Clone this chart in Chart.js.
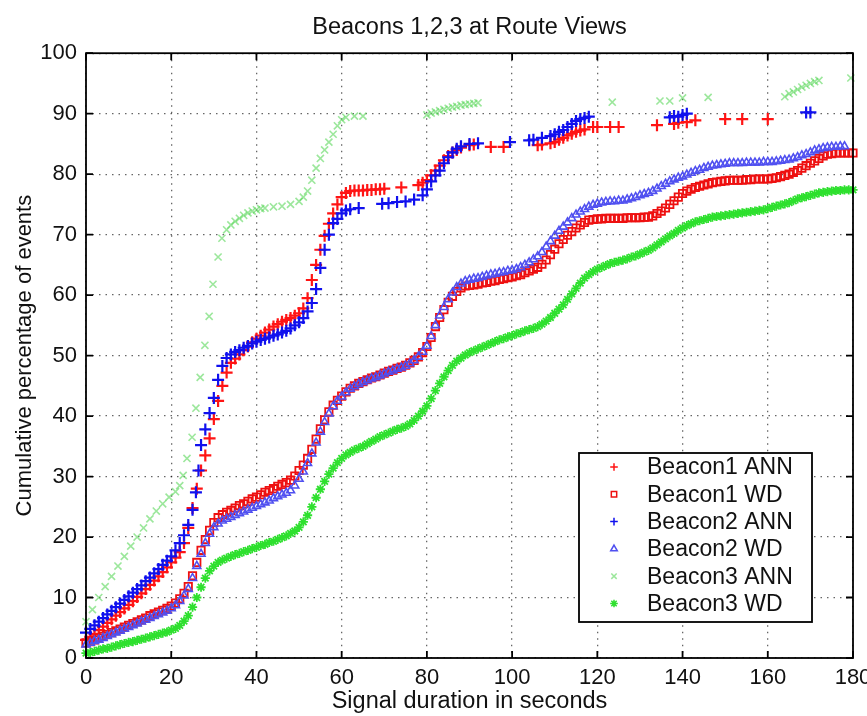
<!DOCTYPE html>
<html>
<head>
<meta charset="utf-8">
<script src="https://cdn.jsdelivr.net/npm/chart.js@4.4.1/dist/chart.umd.min.js"></script>
<style>
  html, body { margin: 0; padding: 0; background: #fff; }
  #wrap { width: 867px; height: 716px; }
</style>
</head>
<body>
<div id="wrap"><canvas id="chart" width="867" height="716"></canvas></div>
<script>
// CDF of signal durations, Beacons 1,2,3 seen at Route Views

const TITLE = 'Beacons 1,2,3 at Route Views';
const X_LABEL = 'Signal duration in seconds';
const Y_LABEL = 'Cumulative percentage of events';
const SERIES_NAMES = ['Beacon1 ANN', 'Beacon1 WD', 'Beacon2 ANN', 'Beacon2 WD', 'Beacon3 ANN', 'Beacon3 WD'];

// WD curves: one value per second, starting at 0 s
const wdSeconds = Array.from({ length: 181 }, (_, i) => i);

const b1WD = [
  2.5,2.7,3.0,3.3,3.6,3.9,4.2,4.5,4.8,5.1, 5.4,5.7,6.0,6.3,6.6,7.0,7.3,7.6,7.9,8.2,
  8.6,9.1,9.8,10.7,11.8,13.6,15.8,17.8,19.6,21.1, 22.4,23.2,23.7,24.1,24.4,24.8,25.2,25.5,25.9,26.3,
  26.6,27.0,27.4,27.7,28.0,28.4,28.7,29.0,29.4,30.1, 31.0,31.9,33.0,34.5,36.2,37.9,39.4,40.7,41.8,42.6,
  43.3,44.0,44.6,45.0,45.4,45.7,46.0,46.3,46.5,46.8, 47.1,47.4,47.6,47.9,48.1,48.4,48.8,49.2,49.8,50.5,
  51.5,53.0,54.8,56.3,57.6,58.8,59.8,60.6,61.2,61.5, 61.6,61.7,61.8,62.0,62.1,62.3,62.4,62.6,62.7,62.9,
  63.0,63.2,63.4,63.7,64.0,64.3,64.6,65.1,65.8,66.7, 67.6,68.5,69.2,69.9,70.5,71.1,71.6,72.0,72.4,72.5,
  72.6,72.6,72.7,72.7,72.7,72.7,72.7,72.8,72.8,72.8, 72.8,72.9,72.9,73.1,73.5,73.9,74.4,75.0,75.6,76.2,
  76.8,77.2,77.5,77.8,78.0,78.2,78.4,78.6,78.7,78.8, 78.9,79.0,79.0,79.0,79.0,79.1,79.1,79.2,79.2,79.2,
  79.2,79.3,79.4,79.6,79.8,80.0,80.3,80.6,81.0,81.4, 81.8,82.2,82.6,83.0,83.3,83.4,83.5,83.5,83.5,83.5,
  83.5];

const b2WD = [
  2.2,2.5,2.8,3.0,3.3,3.6,3.9,4.2,4.5,4.8, 5.1,5.4,5.7,6.0,6.3,6.6,6.9,7.2,7.5,7.8,
  8.2,8.7,9.4,10.3,11.4,13.2,15.2,17.2,19.0,20.5, 21.6,22.2,22.7,23.0,23.3,23.6,23.9,24.2,24.5,24.8,
  25.1,25.4,25.7,26.0,26.4,26.7,27.0,27.3,27.7,28.5, 29.6,30.8,32.2,33.8,35.6,37.4,39.0,40.4,41.6,42.5,
  43.2,43.9,44.5,44.9,45.3,45.6,45.9,46.2,46.4,46.7, 47.0,47.3,47.5,47.8,48.0,48.3,48.7,49.2,49.8,50.6,
  51.6,53.2,55.0,56.6,58.0,59.3,60.4,61.3,61.9,62.3, 62.5,62.7,62.8,63.0,63.2,63.4,63.5,63.7,63.8,64.0,
  64.1,64.3,64.6,65.0,65.4,65.9,66.4,67.1,68.0,68.9, 69.8,70.6,71.3,72.0,72.7,73.3,73.8,74.2,74.6,74.9,
  75.1,75.3,75.4,75.5,75.5,75.6,75.6,75.8,76.0,76.2, 76.5,76.7,76.9,77.2,77.6,78.0,78.4,78.8,79.1,79.4,
  79.6,79.9,80.2,80.5,80.7,81.0,81.2,81.4,81.5,81.6, 81.7,81.8,81.8,81.8,81.8,81.9,81.9,81.9,81.9,82.0,
  82.0,82.0,82.1,82.2,82.3,82.4,82.6,82.8,83.1,83.3, 83.6,83.9,84.1,84.3,84.4,84.5,84.5,84.6,84.6];

const b3WD = [
  0.8,0.9,1.1,1.3,1.5,1.6,1.8,2.0,2.2,2.4, 2.6,2.7,2.9,3.1,3.3,3.5,3.7,3.9,4.1,4.3,
  4.6,4.9,5.4,6.1,7.0,8.4,10.0,11.7,13.2,14.4, 15.2,15.8,16.2,16.5,16.8,17.1,17.3,17.6,17.8,18.1,
  18.3,18.6,18.8,19.1,19.3,19.6,19.9,20.2,20.6,21.0, 21.6,22.5,23.6,25.0,26.5,27.9,29.2,30.4,31.4,32.3,
  33.0,33.6,34.0,34.4,34.7,35.0,35.4,35.8,36.2,36.6, 36.9,37.2,37.5,37.8,38.0,38.3,38.7,39.3,40.0,40.8,
  41.7,42.9,44.2,45.4,46.5,47.5,48.4,49.1,49.6,50.1, 50.5,50.8,51.1,51.4,51.7,52.0,52.3,52.6,52.8,53.1,
  53.3,53.6,53.8,54.1,54.3,54.5,54.8,55.2,55.7,56.3, 57.0,57.7,58.4,59.3,60.2,61.1,62.0,62.8,63.4,63.9,
  64.3,64.6,64.9,65.2,65.4,65.6,65.8,66.0,66.3,66.5, 66.8,67.1,67.4,67.8,68.3,68.8,69.3,69.8,70.2,70.7,
  71.1,71.5,71.8,72.1,72.3,72.5,72.7,72.9,73.0,73.1, 73.2,73.3,73.4,73.5,73.6,73.7,73.8,73.9,74.0,74.1,
  74.3,74.5,74.7,74.9,75.1,75.3,75.6,75.9,76.1,76.3, 76.5,76.7,76.9,77.0,77.1,77.2,77.3,77.3,77.4,77.4,
  77.4];

// ANN curves have gaps, so they keep their own x values
const b1AnnX = [0,1,2,3,4,5,6,7,8,9,10,11,12,13,14,15,16,17,18,19,20,21,22,
  23,24,25,26,27,28,29,30,31,32,33,34,35,36,37,38,39,40,41,42,43,44,45,46,47,48,49,50,
  51,52,53,54,55,56,57,58,59,60,61,62,63,64,65,66,67,68,69,70,74,78,79,80,81,82,83,84,85,86,87,88,
  90,91,95,98,106,107,109,110,111,112,113,114,115,116,117,119,120,123,125,134,138,139,141,143,150,154,160];
const b1AnnY = [3.0,3.5,4.0,4.6,5.2,5.8,6.4,7.0,7.6,8.2,8.8,9.4,10.1,10.7,11.4,12.1,12.8,13.5,14.2,15.0,15.8,16.6,17.5,
  19.0,21.5,24.8,28.0,31.0,33.5,36.3,39.5,42.5,45.0,47.2,48.8,49.5,50.2,50.9,51.5,52.2,52.8,53.3,53.8,54.3,54.8,55.2,
  55.6,55.9,56.2,56.6,57.0,57.8,59.5,62.5,65.0,67.5,69.8,71.8,73.5,75.0,76.2,76.9,77.2,77.3,77.3,77.3,77.4,77.4,
  77.5,77.5,77.6,77.8,78.2,78.6,79.0,79.8,80.6,81.4,82.3,83.0,83.6,84.0,84.4,84.8,84.9,84.5,84.5,84.8,84.9,85.1,
  85.3,85.7,86.0,86.4,86.7,87.0,87.2,87.4,87.8,87.8,87.8,87.8,88.1,88.3,88.5,88.6,88.9,89.1,89.1,89.1];

const b2AnnX = [0,1,2,3,4,5,6,7,8,9,10,11,12,13,14,15,16,17,18,19,20,21,22,
  23,24,25,25.8,26.4,27,28,29,30,31,32,33,34,35,36,37,38,39,40,41,42,43,44,45,46,47,48,49,50,
  51,52,53,54,55,56,57,58,59,60,61,62,64,69.5,71,73,75,77,79,80,81,82,83,84,85,86,87,88,90,92,
  99.5,104,105,107,109,110,111,112,113,114,115,116,117,118,137,138,139,140,141,169,170];
const b2AnnY = [4.2,4.8,5.4,6.0,6.6,7.2,7.8,8.4,9.0,9.6,10.2,10.8,11.4,12.0,12.7,13.3,14.0,14.7,15.4,16.1,16.8,17.8,19.0,
  20.3,22.0,24.5,27.4,31.0,35.2,37.8,40.5,43.0,46.0,48.3,49.6,50.2,50.6,50.9,51.3,51.6,52.0,52.3,52.6,52.8,53.0,53.3,
  53.5,53.8,54.1,54.5,55.0,55.5,56.2,57.3,58.7,61.0,64.5,67.5,70.0,71.9,72.6,73.5,74.0,74.2,74.4,75.1,75.2,75.4,
  75.5,75.8,76.5,77.5,78.8,79.8,80.6,81.8,82.8,83.6,84.2,84.6,85.0,85.1,85.3,85.6,85.7,86.0,86.3,86.6,87.0,87.3,
  87.8,88.3,88.8,89.1,89.3,89.5,89.4,89.6,89.5,89.8,90.0,90.2,90.2];

const b3AnnX = [0,1.5,3,4.5,6,7.5,9,10.5,12,13.5,15,16.5,18,19.5,21,22,22.8,23.7,24.9,25.8,26.8,27.9,28.9,
  29.8,31,31.9,33,34,35,36,37,38,39,40,41,42,44,46,48,50,51,52,53,54,55,56,57,58,59,60,61,63,65,
  80,81,82,83,84,85,86,87,88,89,90,91,92,123.5,134.7,137,140,146,164,165,166,167,168,169,170,171,172,179.5];
const b3AnnY = [6.0,8.0,10.0,11.8,13.5,15.2,16.8,18.5,20.0,21.5,23.0,24.3,25.5,26.6,27.5,28.5,30.2,33.0,
  36.5,41.3,46.4,51.7,56.5,61.8,66.3,69.4,70.8,71.6,72.2,72.7,73.2,73.6,73.9,74.1,74.3,74.4,74.6,74.7,
  75.0,75.5,76.2,77.2,79.0,81.0,82.6,84.0,85.3,86.6,88.0,89.0,89.4,89.6,89.6,89.8,90.1,90.3,90.5,90.7,
  90.9,91.1,91.2,91.4,91.5,91.6,91.7,91.8,91.9,92.1,92.1,92.6,92.7,92.8,93.3,93.6,94.0,94.4,94.7,95.0,
  95.3,95.5,95.9];

const STYLES = [
  { color: '#ff1414', pointStyle: 'cross', radius: 6, width: 2.2 },
  { color: '#ee1010', pointStyle: 'rect', radius: 5.2, width: 1.8 },
  { color: '#1010ee', pointStyle: 'cross', radius: 6, width: 2.2 },
  { color: '#5050f0', pointStyle: 'triangle', radius: 4.6, width: 1.6 },
  { color: 'rgba(90,215,90,0.6)', pointStyle: 'crossRot', radius: 5, width: 1.6 },
  { color: '#2ee02e', pointStyle: 'star', radius: 4.6, width: 1.8 },
];

const pairs = (xs, ys) => ys.map((v, i) => ({ x: xs[i], y: v }));
const seriesData = [
  pairs(b1AnnX, b1AnnY),
  pairs(wdSeconds, b1WD),
  pairs(b2AnnX, b2AnnY),
  pairs(wdSeconds, b2WD),
  pairs(b3AnnX, b3AnnY),
  pairs(wdSeconds, b3WD),
];

const FONT = "'Liberation Sans', Arial, Helvetica, sans-serif";
Chart.defaults.font.family = FONT;
Chart.defaults.color = '#111';

// box around the axes, inward ticks on all four sides, and the legend inside the plot
const matlabFrame = {
  id: 'matlabFrame',
  afterDatasetsDraw(chart) {
    const { ctx, chartArea: a, scales: { x, y } } = chart;
    ctx.save();
    ctx.strokeStyle = '#000';
    ctx.lineWidth = 1.8;
    ctx.strokeRect(a.left, a.top, a.right - a.left, a.bottom - a.top);
    ctx.beginPath();
    x.ticks.forEach(t => {
      const px = x.getPixelForValue(t.value);
      ctx.moveTo(px, a.bottom); ctx.lineTo(px, a.bottom - 7);
      ctx.moveTo(px, a.top); ctx.lineTo(px, a.top + 7);
    });
    y.ticks.forEach(t => {
      const py = y.getPixelForValue(t.value);
      ctx.moveTo(a.left, py); ctx.lineTo(a.left + 7, py);
      ctx.moveTo(a.right, py); ctx.lineTo(a.right - 7, py);
    });
    ctx.stroke();
    ctx.restore();
  },
  afterDraw(chart) {
    const { ctx, chartArea: a } = chart;
    const box = { left: a.right - 274, top: 453, width: 233, height: 169 };
    ctx.save();
    ctx.fillStyle = '#fff';
    ctx.fillRect(box.left, box.top, box.width, box.height);
    ctx.strokeStyle = '#000';
    ctx.lineWidth = 1.8;
    ctx.strokeRect(box.left, box.top, box.width, box.height);
    ctx.font = '23px ' + FONT;
    ctx.textBaseline = 'middle';
    ctx.textAlign = 'left';
    SERIES_NAMES.forEach((name, i) => {
      const cy = box.top + 14 + i * 27.3;
      const st = STYLES[i];
      ctx.strokeStyle = st.color;
      ctx.fillStyle = 'transparent';
      ctx.lineWidth = 1.5;
      Chart.helpers.drawPoint(ctx, { pointStyle: st.pointStyle, radius: 3.8, rotation: 0, borderWidth: 1.5 }, box.left + 35, cy);
      ctx.fillStyle = '#111';
      ctx.fillText(name, box.left + 68, cy + 1);
    });
    ctx.restore();
  },
};

new Chart(document.getElementById('chart'), {
  type: 'scatter',
  data: {
    datasets: seriesData.map((pts, i) => ({
      label: SERIES_NAMES[i],
      data: pts,
      showLine: false,
      pointStyle: STYLES[i].pointStyle,
      pointRadius: STYLES[i].radius,
      pointBorderWidth: STYLES[i].width,
      borderColor: STYLES[i].color,
      backgroundColor: 'transparent',
      clip: false,
      order: 5 - i,
    })),
  },
  options: {
    responsive: false,
    animation: false,
    events: [],
    layout: { padding: { left: 0, right: 14, top: 0, bottom: 0 } },
    plugins: {
      legend: { display: false },
      tooltip: { enabled: false },
      title: {
        display: true,
        text: TITLE,
        fullSize: false,
        color: '#111',
        font: { size: 23.5, weight: 'normal' },
        padding: { top: 13, bottom: 12 },
      },
    },
    scales: {
      x: {
        type: 'linear',
        min: 0,
        max: 180,
        ticks: { stepSize: 20, padding: 7, autoSkip: false, maxRotation: 0, font: { size: 22 }, color: '#111' },
        grid: { color: 'rgba(0,0,0,0.6)', lineWidth: 1.3, drawTicks: false },
        border: { display: false, dash: [1.5, 5] },
        title: { display: true, text: X_LABEL, font: { size: 23.5 }, color: '#111', padding: { top: 0, bottom: 0 } },
        afterFit: s => { s.height = 58; s.paddingLeft = 0; s.paddingRight = 0; },
      },
      y: {
        min: 0,
        max: 100,
        ticks: { stepSize: 10, padding: 9, font: { size: 22 }, color: '#111' },
        grid: { color: 'rgba(0,0,0,0.6)', lineWidth: 1.3, drawTicks: false },
        border: { display: false, dash: [1.5, 5] },
        title: { display: true, text: Y_LABEL, font: { size: 22 }, color: '#111', padding: { top: 12, bottom: 0 } },
        afterFit: s => { s.width = 86; s.paddingTop = 0; s.paddingBottom = 0; },
      },
    },
  },
  plugins: [matlabFrame],
});
</script>
</body>
</html>
